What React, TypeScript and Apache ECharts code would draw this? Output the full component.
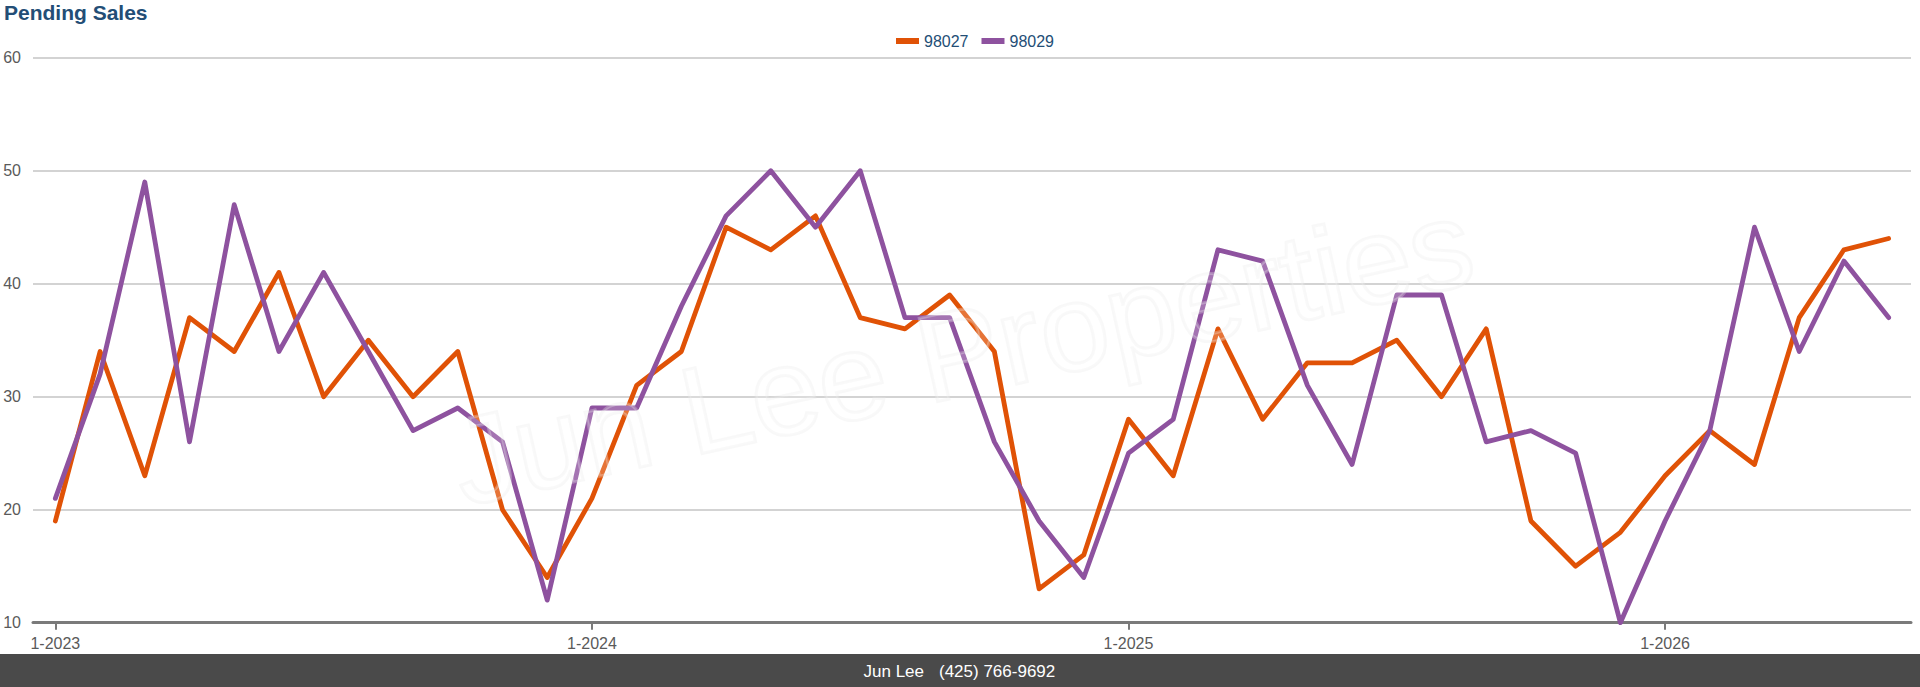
import React, { useEffect, useRef } from "react";
import * as echarts from "echarts";

const months: string[] = [
  "1-2023", "2-2023", "3-2023", "4-2023", "5-2023", "6-2023", "7-2023", "8-2023", "9-2023", "10-2023", "11-2023", "12-2023",
  "1-2024", "2-2024", "3-2024", "4-2024", "5-2024", "6-2024", "7-2024", "8-2024", "9-2024", "10-2024", "11-2024", "12-2024",
  "1-2025", "2-2025", "3-2025", "4-2025", "5-2025", "6-2025", "7-2025", "8-2025", "9-2025", "10-2025", "11-2025", "12-2025",
  "1-2026", "2-2026", "3-2026", "4-2026", "5-2026", "6-2026",
];

const zip98027: number[] = [
  19, 34, 23, 37, 34, 41, 30, 35, 30, 34, 20, 14,
  21, 31, 34, 45, 43, 46, 37, 36, 39, 34, 13, 16,
  28, 23, 36, 28, 33, 33, 35, 30, 36, 19, 15, 18,
  23, 27, 24, 37, 43, 44,
];

const zip98029: number[] = [
  21, 32, 49, 26, 47, 34, 41, 34, 27, 29, 26, 12,
  29, 29, 38, 46, 50, 45, 50, 37, 37, 26, 19, 14,
  25, 28, 43, 42, 31, 24, 39, 39, 26, 27, 25, 10,
  19, 27, 45, 34, 42, 37,
];

const seriesNames: string[] = ["98027", "98029"];
const seriesColors: string[] = ["#E05206", "#8E529F"];
const yTicks = { min: 10, max: 60, step: 10 };

const titleText = "Pending Sales";
const footerName = "Jun Lee";
const footerPhone = "(425) 766-9692";
const watermarkText = "Jun Lee Properties";

const FONT = "'Liberation Sans', Arial, Helvetica, sans-serif";

export default function App() {
  const ref = useRef<HTMLDivElement>(null);

  useEffect(() => {
    if (!ref.current) return;
    const chart = echarts.init(ref.current, undefined, { renderer: "svg" });
    const isJan = (_i: number, v: string) => String(v).startsWith("1-");
    const option: any = {
      animation: false,
      backgroundColor: "#ffffff",
      textStyle: { fontFamily: FONT },
      legend: {
        data: seriesNames,
        left: 896,
        top: 33,
        padding: 0,
        icon: "rect",
        itemWidth: 23,
        itemHeight: 6,
        itemGap: 13,
        textStyle: { fontSize: 16, color: "#234E76", fontFamily: FONT },
      },
      grid: { left: 33, right: 9, top: 57.7, bottom: 64.3, containLabel: false },
      xAxis: {
        type: "category",
        data: months,
        boundaryGap: true,
        axisLine: { show: true, lineStyle: { color: "#7a7a7a", width: 3 } },
        axisTick: {
          show: true,
          alignWithLabel: true,
          interval: isJan,
          length: 7,
          lineStyle: { color: "#7a7a7a", width: 2 },
        },
        axisLabel: {
          interval: isJan,
          fontSize: 16,
          color: "#5a5a5a",
          margin: 13,
          fontFamily: FONT,
        },
        splitLine: { show: false },
      },
      yAxis: {
        type: "value",
        min: yTicks.min,
        max: yTicks.max,
        interval: yTicks.step,
        axisLine: { show: false },
        axisTick: { show: false },
        axisLabel: {
          fontSize: 16,
          color: "#5a5a5a",
          margin: 12,
          fontFamily: FONT,
          verticalAlign: "middle",
          padding: [8, 0, 0, 0],
        },
        splitLine: { show: true, lineStyle: { color: "#c4c4c4", width: 1.6 } },
      },
      series: [
        {
          name: seriesNames[0],
          type: "line",
          data: zip98027,
          showSymbol: false,
          symbol: "none",
          itemStyle: { color: seriesColors[0] },
          lineStyle: { color: seriesColors[0], width: 4.8, join: "round", cap: "round" },
          z: 3,
        },
        {
          name: seriesNames[1],
          type: "line",
          data: zip98029,
          showSymbol: false,
          symbol: "none",
          itemStyle: { color: seriesColors[1] },
          lineStyle: { color: seriesColors[1], width: 4.8, join: "round", cap: "round" },
          z: 4,
        },
      ],
      graphic: [
        {
          type: "text",
          left: 4,
          top: 2,
          z: 10,
          style: {
            text: titleText,
            font: `bold 21px ${FONT}`,
            fill: "#234E76",
          },
        },
        {
          type: "text",
          x: 962,
          y: 352,
          rotation: 0.218,
          z: 20,
          silent: true,
          style: {
            text: watermarkText,
            font: `124px ${FONT}`,
            fill: "rgba(255,255,255,0.2)",
            stroke: "rgba(232,232,232,0.32)",
            lineWidth: 3,
            align: "center",
            verticalAlign: "middle",
          },
        },
        {
          type: "rect",
          shape: { x: 0, y: 654, width: 1920, height: 33 },
          z: 10,
          style: { fill: "#4a4a4a" },
        },
        {
          type: "text",
          x: 924,
          y: 671,
          z: 11,
          style: {
            text: footerName,
            font: `17px ${FONT}`,
            fill: "#ffffff",
            align: "right",
            verticalAlign: "middle",
          },
        },
        {
          type: "text",
          x: 939,
          y: 671,
          z: 11,
          style: {
            text: footerPhone,
            font: `17px ${FONT}`,
            fill: "#ffffff",
            align: "left",
            verticalAlign: "middle",
          },
        },
      ],
    };
    chart.setOption(option);
    return () => chart.dispose();
  }, []);

  return (
    <div
      ref={ref}
      style={{ position: "fixed", left: 0, top: 0, width: "1920px", height: "687px" }}
    />
  );
}
